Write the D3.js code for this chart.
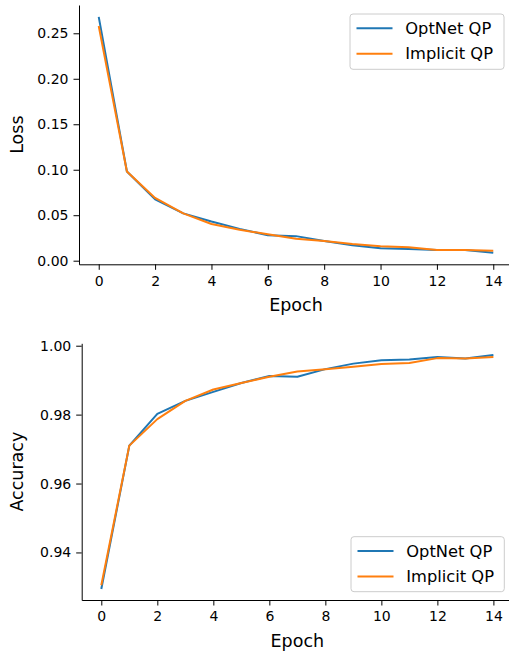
<!DOCTYPE html>
<html><head><meta charset="utf-8">
<script src="https://cdn.jsdelivr.net/npm/d3@7"></script>
<style>body{margin:0;background:#fff}svg{display:block}text{font-family:"DejaVu Sans",sans-serif;fill:#000}</style>
</head><body>
<script>
const epochs = [0,1,2,3,4,5,6,7,8,9,10,11,12,13,14];
const seriesNames = ["OptNet QP", "Implicit QP"];
const colors = ["#1f77b4", "#ff7f0e"];
const lossOptNet   = [0.268,0.098,0.0675,0.052,0.043,0.035,0.028,0.027,0.0217,0.017,0.0136,0.0129,0.0118,0.0118,0.0088];
const lossImplicit = [0.258,0.098,0.069,0.052,0.0403,0.034,0.029,0.0242,0.0217,0.0184,0.0158,0.0147,0.0118,0.0118,0.011];
const accOptNet    = [0.9294,0.971,0.9802,0.984,0.9866,0.9892,0.9912,0.991,0.9932,0.9948,0.9958,0.996,0.9967,0.9963,0.9973];
const accImplicit  = [0.9305,0.971,0.9787,0.984,0.9873,0.9892,0.991,0.9925,0.9932,0.9939,0.9947,0.995,0.9964,0.9963,0.9967];
const lossTicks = [0,0.05,0.10,0.15,0.20,0.25];
const accTicks = [0.94,0.96,0.98,1.00];
const xTicks = [0,2,4,6,8,10,12,14];

const W = 509, H = 655;
const svg = d3.select("body").append("svg").attr("width", W).attr("height", H);
const FONT = "DejaVu Sans, sans-serif";

function panel(cfg) {
  const x = d3.scaleLinear().domain([-0.7, 14.7]).range([cfg.left, cfg.right]);
  const y = d3.scaleLinear().domain(cfg.ydom).range([cfg.bottom, cfg.top]);
  const g = svg.append("g");
  const xa = g.append("g").attr("transform", `translate(0,${cfg.bottom})`)
    .call(d3.axisBottom(x).tickValues(xTicks).tickFormat(d3.format("d")).tickSize(5.5).tickPadding(6).tickSizeOuter(0));
  const ya = g.append("g").attr("transform", `translate(${cfg.left},0)`)
    .call(d3.axisLeft(y).tickValues(cfg.yticks).tickFormat(d3.format(".2f")).tickSize(5.5).tickPadding(5).tickSizeOuter(0));
  [xa, ya].forEach(a => {
    a.attr("font-size", 14).attr("font-family", FONT);
    a.selectAll("text").attr("font-size", 14).attr("font-family", FONT).attr("fill", "#000");
    a.selectAll("line").attr("stroke", "#000").attr("stroke-width", 1);
    a.select(".domain").attr("stroke", "#000").attr("stroke-width", 1);
  });
  const line = d3.line().x((d, i) => x(epochs[i])).y(d => y(d));
  cfg.series.forEach((s, k) => {
    g.append("path").datum(s).attr("d", line).attr("fill", "none")
      .attr("stroke", colors[k]).attr("stroke-width", 2).attr("stroke-linejoin", "round");
  });
  g.append("text").attr("transform", `translate(17,${(cfg.top + cfg.bottom) / 2}) rotate(-90)`)
    .attr("text-anchor", "middle").attr("dominant-baseline", "central").attr("font-size", 17.5).text(cfg.ylabel);
  g.append("text").attr("x", (cfg.left + cfg.right) / 2).attr("y", cfg.xlabelY)
    .attr("text-anchor", "middle").attr("dominant-baseline", "central").attr("font-size", 17.5).text("Epoch");
  // legend
  const L = cfg.legend;
  const lg = g.append("g");
  lg.append("rect").attr("x", L.x).attr("y", L.y).attr("width", L.w).attr("height", L.h)
    .attr("rx", 3).attr("fill", "#fff").attr("fill-opacity", 0.8).attr("stroke", "#cccccc").attr("stroke-width", 1);
  seriesNames.forEach((n, k) => {
    const ly = L.y + 14.3 + k * 25.5;
    lg.append("line").attr("x1", L.x + 6.5).attr("x2", L.x + 42.5).attr("y1", ly).attr("y2", ly)
      .attr("stroke", colors[k]).attr("stroke-width", 2);
    lg.append("text").attr("x", L.x + 55.3).attr("y", ly).attr("dominant-baseline", "central")
      .attr("font-size", 16.3).text(n);
  });
}

panel({left: 79, right: 513, top: 5, bottom: 264.3, ydom: [-0.00396, 0.2811], yticks: lossTicks,
  series: [lossOptNet, lossImplicit], ylabel: "Loss", xlabelY: 305,
  legend: {x: 350, y: 14, w: 154, h: 55.3}});
panel({left: 81.7, right: 513, top: 343.3, bottom: 600, ydom: [0.9262, 1.0007], yticks: accTicks,
  series: [accOptNet, accImplicit], ylabel: "Accuracy", xlabelY: 641,
  legend: {x: 351, y: 536.7, w: 153.3, h: 55}});
</script>
</body></html>
